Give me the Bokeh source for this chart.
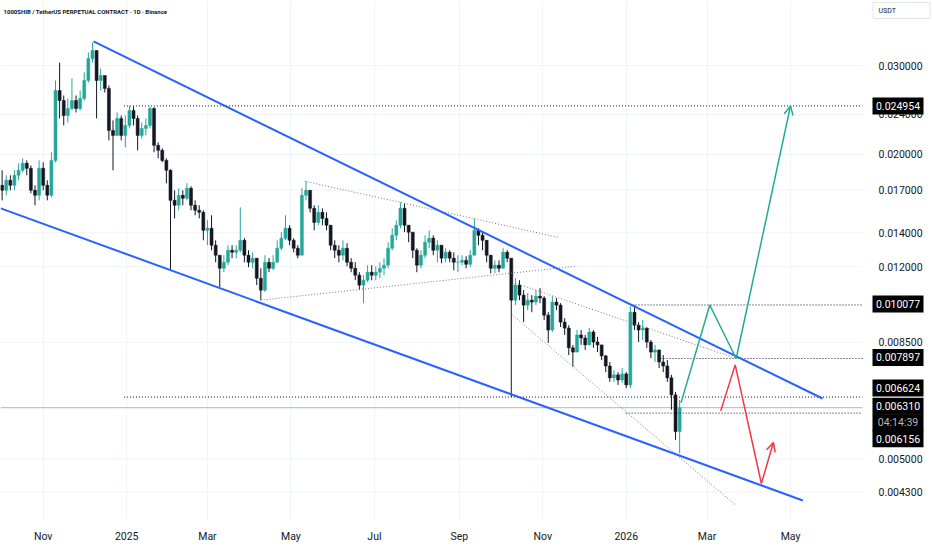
import math
import pandas as pd
from bokeh.plotting import figure
from bokeh.models import Range1d, FixedTicker, Arrow, OpenHead, ColumnDataSource
from bokeh.core.properties import value
from bokeh.embed import file_html
from bokeh.resources import INLINE

FONT = "Roboto"
INK = "#131722"
UP = "#26a69a"
DOWN = "#131722"
BLUE = "#2962ff"
GREEN = "#22ab94"
RED = "#f23645"
GRID = "#f0f3fa"

title_text = "1000SHIB / TetherUS PERPETUAL CONTRACT \u00b7 1D \u00b7 Binance"
currency = "USDT"

# ---- candles (3-day bars) ----
candle_start = "2024-10-02"
candle_step = "3D"
first_open = 0.01738
close = [
    0.01699, 0.01778, 0.01738, 0.01819, 0.01861, 0.01921, 0.01878, 0.01699, 0.01661, 0.01878,
    0.01738, 0.01661, 0.01947, 0.02677, 0.02558, 0.02389, 0.02467, 0.02558, 0.02467, 0.02581,
    0.02802, 0.03097, 0.03212, 0.02802, 0.02867, 0.02702, 0.02232, 0.02182, 0.02357, 0.02182,
    0.02283, 0.02444, 0.02357, 0.02182, 0.02252, 0.02283, 0.02467, 0.02085, 0.02038, 0.01947,
    0.01861, 0.01623, 0.01587, 0.01661, 0.01638, 0.01715, 0.01587, 0.01551, 0.01537, 0.01416,
    0.01429, 0.01323, 0.01264, 0.01191, 0.01224, 0.01293, 0.01281, 0.01293, 0.01353, 0.01264,
    0.01224, 0.01247, 0.01138, 0.01078, 0.01224, 0.01191, 0.01224, 0.01305, 0.01366, 0.01429,
    0.01353, 0.01305, 0.01264, 0.01661, 0.01699, 0.01565, 0.01468, 0.01537, 0.01495, 0.01449,
    0.01323, 0.01293, 0.01264, 0.01305, 0.01224, 0.01191, 0.01154, 0.01103, 0.01128, 0.01170,
    0.01154, 0.01170, 0.01191, 0.01208, 0.01305, 0.01384, 0.01449, 0.01565, 0.01449, 0.01404,
    0.01293, 0.01208, 0.01264, 0.01341, 0.01366, 0.01293, 0.01323, 0.01247, 0.01281, 0.01247,
    0.01224, 0.01224, 0.01235, 0.01213, 0.01264, 0.01416, 0.01384, 0.01353, 0.01264, 0.01191,
    0.01208, 0.01191, 0.01281, 0.01247, 0.01030, 0.01103, 0.01054, 0.01007, 0.01030, 0.01021,
    0.01049, 0.01040, 0.00962, 0.00899, 0.01021, 0.01007, 0.00932, 0.00907, 0.00829, 0.00813,
    0.00879, 0.00867, 0.00840, 0.00891, 0.00851, 0.00840, 0.00799, 0.00763, 0.00723, 0.00733,
    0.00716, 0.00736, 0.00700, 0.00975, 0.00919, 0.00899, 0.00907, 0.00851, 0.00813, 0.00821,
    0.00777, 0.00763, 0.00723, 0.00669, 0.00566, 0.00631,
]
high = [
    0.01861, 0.01819, 0.01819, 0.01861, 0.01921, 0.01965, 0.01947, 0.01903, 0.01738, 0.01947,
    0.01930, 0.01778, 0.02020, 0.02802, 0.03041, 0.02617, 0.02581, 0.02828, 0.02617, 0.02677,
    0.02907, 0.03183, 0.03331, 0.03212, 0.02959, 0.02867, 0.02739, 0.02336, 0.02422, 0.02389,
    0.02389, 0.024954, 0.02489, 0.02389, 0.02314, 0.02357, 0.02490, 0.02480, 0.02114, 0.02057,
    0.01965, 0.01870, 0.01699, 0.01715, 0.01699, 0.01754, 0.01730, 0.01623, 0.01587, 0.01551,
    0.01482, 0.01516, 0.01353, 0.01264, 0.01264, 0.01323, 0.01323, 0.01323, 0.01572, 0.01366,
    0.01293, 0.01281, 0.01247, 0.01191, 0.01264, 0.01247, 0.01264, 0.01353, 0.01404, 0.01516,
    0.01449, 0.01366, 0.01323, 0.01715, 0.01771, 0.01699, 0.01587, 0.01587, 0.01565, 0.01537,
    0.01449, 0.01353, 0.01323, 0.01353, 0.01335, 0.01247, 0.01224, 0.01170, 0.01154, 0.01208,
    0.01208, 0.01202, 0.01224, 0.01247, 0.01341, 0.01429, 0.01482, 0.01609, 0.01601, 0.01449,
    0.01404, 0.01305, 0.01293, 0.01384, 0.01416, 0.01384, 0.01353, 0.01323, 0.01305, 0.01293,
    0.01281, 0.01264, 0.01264, 0.01258, 0.01293, 0.01495, 0.01429, 0.01404, 0.01353, 0.01264,
    0.01235, 0.01235, 0.01305, 0.01293, 0.01247, 0.01138, 0.01128, 0.01078, 0.01064, 0.01054,
    0.01078, 0.01088, 0.01049, 0.00975, 0.01049, 0.01040, 0.01016, 0.00949, 0.00919, 0.00840,
    0.00899, 0.00899, 0.00879, 0.00907, 0.00899, 0.00871, 0.00840, 0.00802, 0.00777, 0.00749,
    0.00742, 0.00756, 0.00742, 0.01002, 0.010077, 0.00932, 0.00941, 0.00910, 0.00859, 0.00840,
    0.00821, 0.00802, 0.00784, 0.00733, 0.00678, 0.00654,
]
low = [
    0.01623, 0.01661, 0.01699, 0.01699, 0.01778, 0.01844, 0.01819, 0.01676, 0.01587, 0.01623,
    0.01699, 0.01623, 0.01646, 0.01930, 0.02357, 0.02283, 0.02314, 0.02444, 0.02422, 0.02444,
    0.02558, 0.02777, 0.03041, 0.02357, 0.02677, 0.02653, 0.02133, 0.01861, 0.02182, 0.02133,
    0.02066, 0.02252, 0.02283, 0.02038, 0.02152, 0.02182, 0.02252, 0.02020, 0.01965, 0.01930,
    0.01754, 0.01180, 0.01495, 0.01551, 0.01587, 0.01623, 0.01551, 0.01516, 0.01495, 0.01353,
    0.01323, 0.01293, 0.01224, 0.01093, 0.01170, 0.01208, 0.01247, 0.01247, 0.01281, 0.01224,
    0.01197, 0.01191, 0.01103, 0.01030, 0.01069, 0.01170, 0.01180, 0.01224, 0.01293, 0.01353,
    0.01323, 0.01281, 0.01247, 0.01264, 0.01623, 0.01537, 0.01416, 0.01449, 0.01449, 0.01416,
    0.01293, 0.01247, 0.01224, 0.01235, 0.01202, 0.01170, 0.01128, 0.01078, 0.01016, 0.01118,
    0.01128, 0.01128, 0.01138, 0.01154, 0.01191, 0.01293, 0.01353, 0.01429, 0.01404, 0.01341,
    0.01247, 0.01170, 0.01191, 0.01247, 0.01305, 0.01264, 0.01224, 0.01219, 0.01224, 0.01224,
    0.01180, 0.01170, 0.01208, 0.01191, 0.01197, 0.01264, 0.01323, 0.01293, 0.01224, 0.01164,
    0.01164, 0.01170, 0.01191, 0.01224, 0.006624, 0.01007, 0.01030, 0.00932, 0.00984, 0.00975,
    0.01007, 0.01016, 0.00941, 0.00848, 0.00891, 0.00984, 0.00911, 0.00879, 0.00802, 0.00760,
    0.00813, 0.00840, 0.00821, 0.00840, 0.00829, 0.00813, 0.00784, 0.00742, 0.00710, 0.00710,
    0.00700, 0.00707, 0.00690, 0.00690, 0.00899, 0.00851, 0.00859, 0.00829, 0.00791, 0.00777,
    0.00756, 0.00742, 0.00710, 0.00625, 0.00545, 0.00513,
]

# ---- horizontal levels ----
level_values = [0.024954, 0.010077, 0.007897, 0.006624, 0.006156]
level_starts = ["2024-12-30", "2026-01-05 14:00", "2026-01-26", "2024-12-30", "2025-12-31 12:00"]
current_price = 0.006310
countdown = "04:14:39"

# ---- drawn lines ----
upper_channel_x = ["2024-12-07 18:00", "2026-05-24 10:00"]
upper_channel_y = [0.03347, 0.006581]
lower_channel_x = ["2024-10-01", "2026-05-10"]
lower_channel_y = [0.01565, 0.004135]
tri_upper_x = ["2025-05-11", "2025-11-12"]
tri_upper_y = [0.01771, 0.01372]
tri_lower_x = ["2025-04-08 19:00", "2025-11-25"]
tri_lower_y = [0.01030, 0.01202]
wedge_upper_x = ["2025-10-12", "2026-03-22 07:00"]
wedge_upper_y = [0.01113, 0.007897]
wedge_lower_x = ["2025-10-09 22:00", "2026-03-22 07:00"]
wedge_lower_y = [0.00962, 0.004041]
bull_x = ["2026-02-10", "2026-03-03", "2026-03-22 07:00", "2026-05-01"]
bull_y = [0.00645, 0.010077, 0.007897, 0.024954]
bear_x = ["2026-03-11", "2026-03-21 14:00", "2026-04-09 17:00", "2026-04-18 12:00"]
bear_y = [0.00622, 0.00767, 0.004468, 0.005386]

# ---- axes ----
x_tick_dates = ["2024-11-01", "2025-01-01", "2025-03-01", "2025-05-01", "2025-07-01",
                "2025-09-01", "2025-11-01", "2026-01-01", "2026-03-01", "2026-05-01"]
x_tick_labels = ["Nov", "2025", "Mar", "May", "Jul", "Sep", "Nov", "2026", "Mar", "May"]
y_ticks = [0.0043, 0.005, 0.0085, 0.012, 0.014, 0.017, 0.020, 0.024, 0.030]

# ---- layout helpers (screen placement of the price scale) ----
ANCHOR = pd.Timestamp("2024-11-01")
ANCHOR_PX, PX_PER_DAY = 42.7, 1.3687
REF_PRICE, REF_PX, PX_PER_LN = 0.03, 65.0, 219.5


def x_at(px):
    return ANCHOR + pd.Timedelta(days=(px - ANCHOR_PX) / PX_PER_DAY)


def y_at(py):
    return REF_PRICE * math.exp((REF_PX - py) / PX_PER_LN)


def shift(price, px_up):
    return price * math.exp(px_up / PX_PER_LN)


def ms(s):
    return pd.Timestamp(s).value / 1e6


def dts(xs):
    return [pd.Timestamp(s) for s in xs]


CHART_END = x_at(862)
LEFT = x_at(0)

dates = pd.date_range(candle_start, periods=len(close), freq=candle_step)
opens = [first_open] + close[:-1]
colors = [UP if c >= o else DOWN for o, c in zip(opens, close)]
src = ColumnDataSource(dict(
    x=dates, o=opens, c=close, h=high, l=low,
    top=[max(a, b) for a, b in zip(opens, close)],
    bot=[min(a, b) for a, b in zip(opens, close)],
    color=colors,
))

p = figure(frame_width=932, frame_height=520,
           x_axis_type="datetime", y_axis_type="log", y_axis_location=None,
           x_range=Range1d(LEFT, x_at(932)),
           y_range=Range1d(y_at(520), y_at(0)),
           output_backend="svg", toolbar_location=None,
           min_border_left=0, min_border_top=0, min_border_right=0, min_border_bottom=30,
           background_fill_color="white", border_fill_color="white")
p.outline_line_color = None
p.xgrid.grid_line_color = GRID
p.ygrid.grid_line_color = None

xa = p.xaxis[0]
xa.ticker = FixedTicker(ticks=[ms(d) for d in x_tick_dates])
xa.major_label_overrides = {ms(d): t for d, t in zip(x_tick_dates, x_tick_labels)}
xa.axis_line_color = None
xa.major_tick_line_color = None
xa.minor_tick_line_color = None
xa.major_tick_out = 0
xa.major_tick_in = 0
xa.major_label_text_font = FONT
xa.major_label_text_color = INK
xa.major_label_text_font_size = "10.5px"
xa.major_label_standoff = 9

# horizontal grid of the price scale
p.segment(x0=[LEFT] * len(y_ticks), y0=y_ticks, x1=[CHART_END] * len(y_ticks), y1=y_ticks,
          line_color=GRID, line_width=1)

# current price line
p.line(x=[LEFT, CHART_END], y=[current_price, current_price], line_color="#b2b5be", line_width=1)

# candles
p.segment(x0="x", y0="l", x1="x", y1="h", color="color", line_width=1, source=src)
p.vbar(x="x", top="top", bottom="bot", width=2.2 * 86400000, fill_color="color",
       line_color="color", line_width=0.5, source=src)

# horizontal dotted levels
for v, s in zip(level_values, level_starts):
    p.line(x=[pd.Timestamp(s), CHART_END], y=[v, v], line_color=INK,
           line_width=1, line_dash="1 2")

# triangle / wedge dotted lines
for xs, ys in ((tri_upper_x, tri_upper_y), (tri_lower_x, tri_lower_y),
               (wedge_upper_x, wedge_upper_y), (wedge_lower_x, wedge_lower_y)):
    p.line(x=dts(xs), y=ys, line_color="#787b86", line_width=1, line_dash="1 2")

# channel
for xs, ys in ((upper_channel_x, upper_channel_y), (lower_channel_x, lower_channel_y)):
    p.line(x=dts(xs), y=ys, line_color=BLUE, line_width=2)

# scenario paths
p.line(x=dts(bull_x[:-1]), y=bull_y[:-1], line_color=GREEN, line_width=1.5)
p.add_layout(Arrow(end=OpenHead(size=9, line_color=GREEN, line_width=1.5),
                   x_start=ms(bull_x[-2]), y_start=bull_y[-2],
                   x_end=ms(bull_x[-1]), y_end=bull_y[-1],
                   line_color=GREEN, line_width=1.5))
p.line(x=dts(bear_x[:-1]), y=bear_y[:-1], line_color=RED, line_width=1.5)
p.add_layout(Arrow(end=OpenHead(size=9, line_color=RED, line_width=1.5),
                   x_start=ms(bear_x[-2]), y_start=bear_y[-2],
                   x_end=ms(bear_x[-1]), y_end=bear_y[-1],
                   line_color=RED, line_width=1.5))

# ---- price scale (right) ----
SCALE_TEXT_X = x_at(878)
BOX_X = x_at(897.5)
p.text(x=[SCALE_TEXT_X] * len(y_ticks), y=y_ticks, text=[f"{v:.6f}" for v in y_ticks],
       text_font=value(FONT), text_font_size="10.5px", text_color=INK,
       text_align="left", text_baseline="middle")

boxes = [
    (level_values[0], f"{level_values[0]:.6f}", 0, "white"),
    (level_values[1], f"{level_values[1]:.6f}", 1, "white"),
    (level_values[2], f"{level_values[2]:.6f}", 1, "white"),
    (level_values[3], f"{level_values[3]:.6f}", 9, "white"),
    (current_price, f"{current_price:.6f}", 1.5, "white"),
    (current_price, countdown, -15, "#b2b5be"),
    (level_values[4], f"{level_values[4]:.6f}", -25.5, "white"),
]
by = [shift(v, d) for v, t, d, c in boxes]
p.rect(x=[BOX_X] * len(boxes), y=by, width=51, height=17, width_units="screen",
       height_units="screen", fill_color="#000000", line_color=None)
p.text(x=[BOX_X] * len(boxes), y=by, text=[t for v, t, d, c in boxes],
       text_color=[c for v, t, d, c in boxes], text_font=value(FONT), text_font_size="10.5px",
       text_align="center", text_baseline="middle")

# currency box
p.rect(x=[x_at(901)], y=[y_at(10)], width=57, height=16, width_units="screen",
       height_units="screen", fill_color="white", line_color="#e0e3eb")
p.text(x=[x_at(878)], y=[y_at(10)], text=[currency], text_font=value(FONT),
       text_font_size="7px", text_color=INK, text_align="left", text_baseline="middle")

# title
p.text(x=[x_at(3)], y=[y_at(10.5)], text=[title_text], text_font=value(FONT),
       text_font_size="6px", text_color=INK, text_align="left", text_baseline="middle",
       text_font_style="bold")

open("out.html", "w").write(file_html(p, INLINE))
